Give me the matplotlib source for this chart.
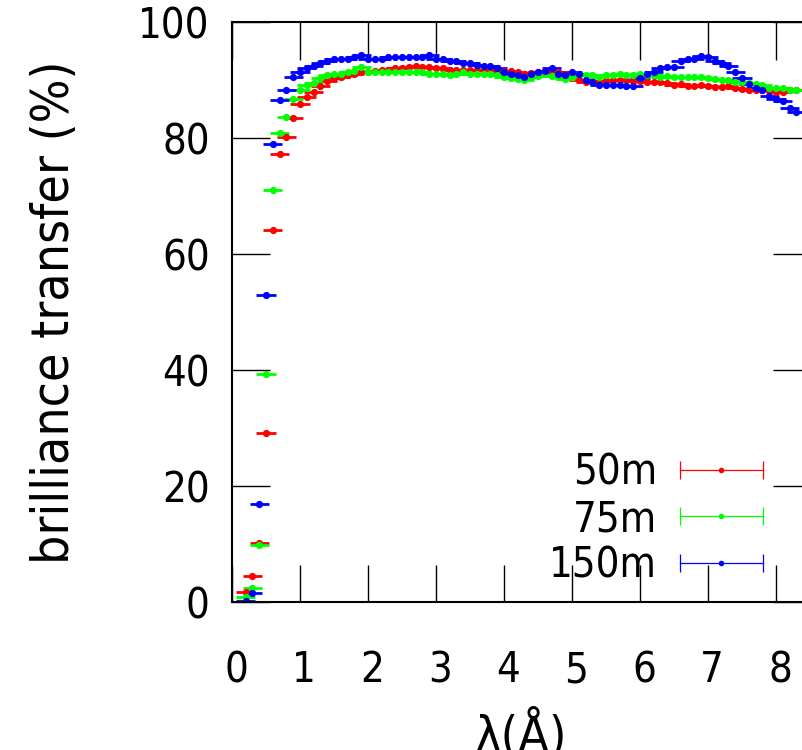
import numpy as np
import matplotlib
matplotlib.use("Agg")
import matplotlib.pyplot as plt
from matplotlib import transforms
from matplotlib.container import ErrorbarContainer
from matplotlib.legend_handler import HandlerBase
from matplotlib.lines import Line2D

# wavelength grid (Angstrom) and bin half-width
lam = [round(0.2 + 0.1 * i, 1) for i in range(82)]
dlam = 0.14

bt_50m = [1.7, 4.4, 10.2, 29.1, 64.1, 77.2, 80.1, 83.4, 85.9, 87.1,
          88.0, 89.0, 89.9, 90.3, 90.6, 90.9, 91.1, 91.4, 91.4, 91.5,
          91.7, 91.8, 92.0, 92.1, 92.3, 92.4, 92.2, 92.2, 92.0, 92.0,
          91.8, 91.7, 91.7, 91.8, 91.7, 91.8, 91.8, 91.7, 91.6, 91.5,
          91.4, 91.1, 91.2, 91.3, 91.5, 91.6, 91.3, 91.1, 91.1, 90.0,
          89.7, 89.8, 89.7, 89.9, 90.0, 90.0, 90.0, 89.8, 89.8, 89.7,
          89.7, 89.6, 89.4, 89.1, 89.3, 89.0, 88.9, 89.2, 88.9, 88.8,
          88.8, 88.9, 88.6, 88.4, 88.3, 88.3, 88.2, 88.2, 88.0, 88.0,
          88.2, 88.3]
bt_75m = [0.9, 2.5, 9.9, 39.3, 71.0, 80.8, 83.7, 86.7, 88.2, 89.1,
          89.4, 90.4, 90.9, 91.1, 91.1, 91.3, 91.6, 92.2, 91.3, 91.3,
          91.3, 91.4, 91.4, 91.4, 91.3, 91.3, 91.3, 91.1, 91.0, 91.1,
          90.9, 91.0, 91.3, 91.1, 91.1, 91.0, 91.0, 90.9, 90.6, 90.3,
          90.1, 90.0, 90.6, 90.7, 91.0, 90.7, 90.5, 90.2, 90.6, 91.0,
          90.9, 90.9, 90.6, 90.9, 90.9, 91.0, 90.8, 90.8, 91.1, 90.9,
          90.8, 90.6, 90.7, 90.5, 90.5, 90.6, 90.6, 90.5, 90.3, 90.2,
          90.0, 90.0, 89.7, 89.6, 89.4, 89.3, 89.1, 88.7, 88.7, 88.6,
          88.3, 88.3]
bt_150m = [0.2, 1.6, 16.9, 52.9, 78.9, 86.6, 88.3, 90.6, 91.4, 92.0,
           92.4, 92.9, 93.2, 93.6, 93.6, 93.7, 93.9, 94.3, 93.7, 93.7,
           93.7, 93.9, 94.0, 94.0, 94.0, 93.9, 94.0, 94.3, 93.7, 93.6,
           93.2, 93.2, 92.9, 92.9, 92.6, 92.4, 92.4, 92.0, 91.4, 91.1,
           90.9, 90.6, 91.0, 91.4, 91.6, 92.0, 91.0, 90.9, 91.4, 91.1,
           90.0, 89.7, 89.1, 89.1, 89.1, 89.1, 89.0, 89.0, 90.3, 91.0,
           91.3, 92.0, 92.3, 92.2, 93.2, 93.6, 93.7, 94.1, 93.9, 93.2,
           93.0, 92.4, 91.4, 90.3, 89.3, 88.7, 88.2, 87.2, 86.8, 86.3,
           85.1, 84.5]

labels = ["50m", "75m", "150m"]
colors = ["#ff0000", "#00ff00", "#0000ff"]


class KeySample(HandlerBase):
    # thin horizontal error bar with end caps and a dot in the middle
    def create_artists(self, legend, orig_handle, xdescent, ydescent,
                       width, height, fontsize, trans):
        c = orig_handle.lines[0].get_color()
        y = height / 2 - ydescent
        x0, x1 = -xdescent, width - xdescent
        bar = Line2D([x0, x1], [y, y], color=c, lw=0.9, marker="|",
                     ms=13, mew=0.9)
        dot = Line2D([(x0 + x1) / 2], [y], color=c, ls="none",
                     marker="o", ms=4, mew=0)
        for a in (bar, dot):
            a.set_transform(trans)
        return [bar, dot]


plt.rcParams["font.family"] = "DejaVu Sans"
plt.rcParams["font.stretch"] = "condensed"

fig = plt.figure(figsize=(8.02, 7.5), dpi=100)
ax = fig.add_axes([232 / 802, 148 / 750, 578 / 802, 580 / 750])

handles = []
for ys, c in zip([bt_50m, bt_75m, bt_150m], colors):
    h = ax.errorbar(lam, ys, xerr=dlam, fmt="o", color=c, ms=5.2, mew=0,
                    elinewidth=2.0, capsize=0)
    handles.append(h)

ax.set_xlim(0, 8.5)
ax.set_ylim(0, 100)
ax.set_xticks(range(0, 9))
ax.set_yticks(range(0, 101, 20))
ax.tick_params(axis="both", direction="in", length=27, width=1,
               top=True, right=True, labelsize=30)
ax.tick_params(axis="x", pad=34)
ax.tick_params(axis="y", pad=16)
for s in ax.spines.values():
    s.set_linewidth(1.5)

shift = transforms.ScaledTranslation(4 / 100, 0, fig.dpi_scale_trans)
for t in ax.get_xticklabels():
    t.set_transform(t.get_transform() + shift)

ax.set_xlabel("λ(Å)", fontsize=36, labelpad=13)
ax.set_ylabel("brilliance transfer (%)", fontsize=37, labelpad=42)

ax.legend(handles=handles, labels=labels, loc="center right",
          bbox_to_anchor=(0.9187, 0.143), frameon=False, markerfirst=False,
          fontsize=30, handlelength=2.0, handletextpad=0.55,
          labelspacing=0.1, borderpad=0, borderaxespad=0,
          handler_map={ErrorbarContainer: KeySample()})

fig.savefig("out.png", dpi=100)
